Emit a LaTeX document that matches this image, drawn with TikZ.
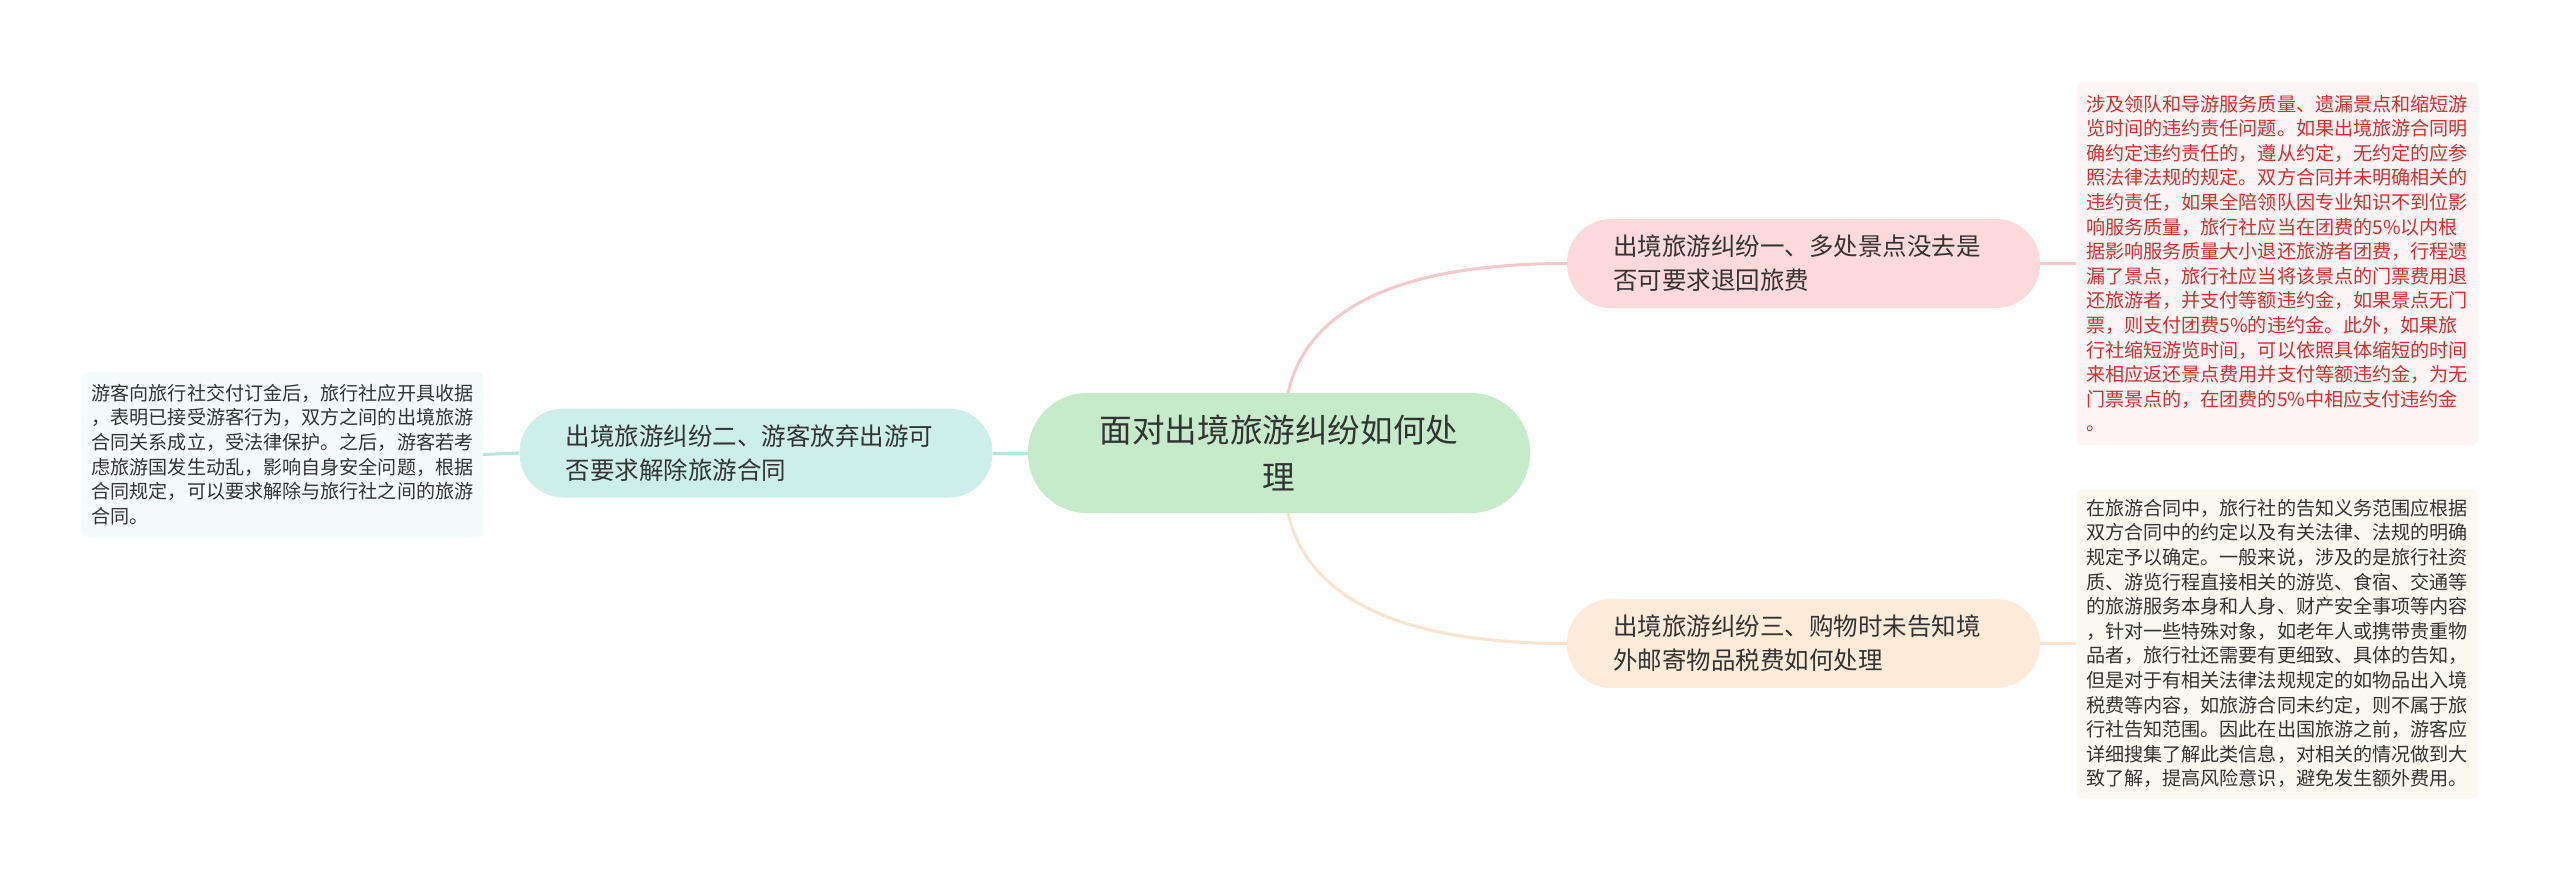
\documentclass[tikz,border=0pt]{standalone}
\usepackage{fontspec}
\setmainfont{Noto Sans CJK SC}
\definecolor{cfill}{HTML}{C5EBCA}
\definecolor{fillA}{HTML}{FCD9DA}
\definecolor{fillB}{HTML}{CCEFEA}
\definecolor{fillC}{HTML}{FDEBD9}
\definecolor{boxA}{HTML}{FDF5F5}
\definecolor{boxB}{HTML}{F4FBFA}
\definecolor{boxC}{HTML}{FCF9F3}
\definecolor{lineA}{HTML}{F5C8CB}
\definecolor{lineB}{HTML}{B4E6DE}
\definecolor{lineC}{HTML}{FCE4CC}
\definecolor{txt}{HTML}{333333}
\definecolor{redtxt}{HTML}{D32F2F}
\tikzset{
  centre/.style={draw=none, fill=cfill, rounded corners=59pt, minimum width=502pt, minimum height=120pt,
    inner sep=0pt, align=center, text=txt, font=\fontsize{32.6}{46.5}\selectfont},
  topic/.style={draw=none, rounded corners=44pt, text width=381pt, inner xsep=46pt, inner ysep=0pt,
    minimum height=89pt, align=left, text=txt, font=\fontsize{24.5}{34}\selectfont},
  leafbox/.style={draw=none, rounded corners=6pt, minimum width=401pt, inner sep=0pt,
    align=left, text=txt, font=\fontsize{19.1}{24.6}\selectfont},
  conn/.style={line width=3pt}
}
\begin{document}
\begin{tikzpicture}[x=1pt,y=-1pt]
\useasboundingbox[fill=white] (0,0) rectangle (2560,883);
\node[centre] (c) at (1279,453) {面对出境旅游纠纷如何处\\理};
\node[topic, fill=fillA] (n1) at (1803.5,263.5) {出境旅游纠纷一、多处景点没去是\\否可要求退回旅费};
\node[topic, fill=fillB] (n2) at (756,453) {出境旅游纠纷二、游客放弃出游可\\否要求解除旅游合同};
\node[topic, fill=fillC] (n3) at (1803.5,643.5) {出境旅游纠纷三、购物时未告知境\\外邮寄物品税费如何处理};
\node[leafbox, fill=boxA, text=redtxt, minimum height=363pt] (b1) at (2277,263.5) {涉及领队和导游服务质量、遗漏景点和缩短游\\览时间的违约责任问题。如果出境旅游合同明\\确约定违约责任的，遵从约定，无约定的应参\\照法律法规的规定。双方合同并未明确相关的\\违约责任，如果全陪领队因专业知识不到位影\\响服务质量，旅行社应当在团费的5\%以内根\\据影响服务质量大小退还旅游者团费，行程遗\\漏了景点，旅行社应当将该景点的门票费用退\\还旅游者，并支付等额违约金，如果景点无门\\票，则支付团费5\%的违约金。此外，如果旅\\行社缩短游览时间，可以依照具体缩短的时间\\来相应返还景点费用并支付等额违约金，为无\\门票景点的，在团费的5\%中相应支付违约金\\。};
\node[leafbox, fill=boxB, minimum height=165pt] (b2) at (282.5,454.5) {游客向旅行社交付订金后，旅行社应开具收据\\，表明已接受游客行为，双方之间的出境旅游\\合同关系成立，受法律保护。之后，游客若考\\虑旅游国发生动乱，影响自身安全问题，根据\\合同规定，可以要求解除与旅行社之间的旅游\\合同。};
\node[leafbox, fill=boxC, minimum height=310pt] (b3) at (2277,643.5) {在旅游合同中，旅行社的告知义务范围应根据\\双方合同中的约定以及有关法律、法规的明确\\规定予以确定。一般来说，涉及的是旅行社资\\质、游览行程直接相关的游览、食宿、交通等\\的旅游服务本身和人身、财产安全事项等内容\\，针对一些特殊对象，如老年人或携带贵重物\\品者，旅行社还需要有更细致、具体的告知，\\但是对于有相关法律法规规定的如物品出入境\\税费等内容，如旅游合同未约定，则不属于旅\\行社告知范围。因此在出国旅游之前，游客应\\详细搜集了解此类信息，对相关的情况做到大\\致了解，提高风险意识，避免发生额外费用。};
\draw[conn, lineB] (c.west) -- (n2.east);
\draw[conn, lineB] (n2.west) -- (b2.east);
\draw[conn, lineA] ([xshift=9pt]c.north) .. controls +(17,-74) and +(-187,0) .. (n1.west);
\draw[conn, lineC] ([xshift=9pt]c.south) .. controls +(17,74) and +(-187,0) .. (n3.west);
\draw[conn, lineA] (n1.east) -- (b1.west);
\draw[conn, lineC] (n3.east) -- (b3.west);
\end{tikzpicture}
\end{document}
